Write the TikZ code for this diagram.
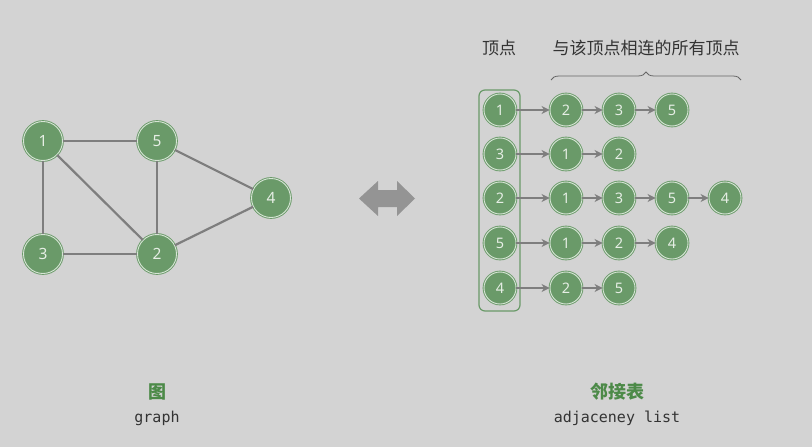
\documentclass[tikz,border=0pt]{standalone}
\usepackage{fontspec}
\setmainfont{Noto Sans}
\setmonofont{DejaVu Sans Mono}
\newfontfamily\cjk{Noto Sans CJK SC}
\usetikzlibrary{decorations.pathreplacing,arrows.meta}
\definecolor{bg}{HTML}{D3D3D3}
\definecolor{vgreen}{HTML}{6A9A69}
\definecolor{vring}{HTML}{D6E4D5}
\definecolor{vtext}{HTML}{E6EEE5}
\definecolor{edgec}{HTML}{7E7E7E}
\definecolor{txt}{HTML}{333333}
\definecolor{titlegreen}{HTML}{4C8A48}
\tikzset{
  gv/.style={circle, fill=vgreen, draw=vgreen, line width=0.9pt, double=vring, double distance=0.9pt,
    minimum size=39pt, inner sep=0pt, text=vtext, font=\fontsize{15.5}{15.5}\selectfont},
  lv/.style={gv, minimum size=32pt, font=\fontsize{14.5}{14.5}\selectfont},
  gedge/.style={draw=edgec, line width=2.2pt},
  larrow/.style={draw=edgec, line width=2pt, -{Stealth[length=8pt,width=8pt]}},
  lbl/.style={text=txt, font=\cjk\fontsize{17}{17}\selectfont},
}
\begin{document}
\begin{tikzpicture}[x=1pt,y=-1pt]
\fill[bg] (0,0) rectangle (812,447);
\useasboundingbox (0,0) rectangle (812,447);
% graph
\node[gv] (g1) at (43,141) {1};
\node[gv] (g5) at (157,141) {5};
\node[gv] (g4) at (271,198) {4};
\node[gv] (g3) at (43,254) {3};
\node[gv] (g2) at (157,254) {2};
\draw[gedge] (g1) -- (g5);
\draw[gedge] (g1) -- (g3);
\draw[gedge] (g1) -- (g2);
\draw[gedge] (g5) -- (g2);
\draw[gedge] (g5) -- (g4);
\draw[gedge] (g3) -- (g2);
\draw[gedge] (g2) -- (g4);
% double arrow
\fill[fill=gray!75!bg] (359,198.5) -- (378,181) -- (378,190) -- (397,190) -- (397,181) -- (415,198.5)
  -- (397,216) -- (397,207) -- (378,207) -- (378,216) -- cycle;
% adjacency list
\node[draw=vgreen, line width=1.2pt, rounded corners=6pt, minimum width=41pt, minimum height=221pt, inner sep=0pt] (col) at (499.5,200.5) {};
\node[lv] (h1) at (500,110) {1};
\node[lv] (h3) at (500,154) {3};
\node[lv] (h2) at (500,198) {2};
\node[lv] (h5) at (500,243) {5};
\node[lv] (h4) at (500,288) {4};
% row 1
\node[lv] (a12) at (566,110) {2};
\node[lv] (a13) at (619,110) {3};
\node[lv] (a15) at (672,110) {5};
\draw[larrow] (h1) -- (a12);
\draw[larrow] (a12) -- (a13);
\draw[larrow] (a13) -- (a15);
% row 3
\node[lv] (a31) at (566,154) {1};
\node[lv] (a32) at (619,154) {2};
\draw[larrow] (h3) -- (a31);
\draw[larrow] (a31) -- (a32);
% row 2
\node[lv] (a21) at (566,198) {1};
\node[lv] (a23) at (619,198) {3};
\node[lv] (a25) at (672,198) {5};
\node[lv] (a24) at (725,198) {4};
\draw[larrow] (h2) -- (a21);
\draw[larrow] (a21) -- (a23);
\draw[larrow] (a23) -- (a25);
\draw[larrow] (a25) -- (a24);
% row 5
\node[lv] (a51) at (566,243) {1};
\node[lv] (a52) at (619,243) {2};
\node[lv] (a54) at (672,243) {4};
\draw[larrow] (h5) -- (a51);
\draw[larrow] (a51) -- (a52);
\draw[larrow] (a52) -- (a54);
% row 4
\node[lv] (a42) at (566,288) {2};
\node[lv] (a45) at (619,288) {5};
\draw[larrow] (h4) -- (a42);
\draw[larrow] (a42) -- (a45);
% labels
\node[lbl] (tv) at (499,48) {顶点};
\node[lbl] (tn) at (646,48) {与该顶点相连的所有顶点};
\coordinate (bl) at (551,80);
\coordinate (br) at (741,80);
\draw[draw=gray!80!black, line width=0.8pt, decorate, decoration={brace, amplitude=8pt}] (bl) -- (br);
% captions
\node[text=titlegreen, font=\cjk\bfseries\fontsize{18}{18}\selectfont] (c1) at (157,392) {图};
\node[text=txt, font=\ttfamily\fontsize{15}{15}\selectfont] (c1b) at (157,418) {graph};
\node[text=titlegreen, font=\cjk\bfseries\fontsize{18}{18}\selectfont] (c2) at (617,392) {邻接表};
\node[text=txt, font=\ttfamily\fontsize{15}{15}\selectfont] (c2b) at (617,418) {adjaceney list};
\end{tikzpicture}
\end{document}
